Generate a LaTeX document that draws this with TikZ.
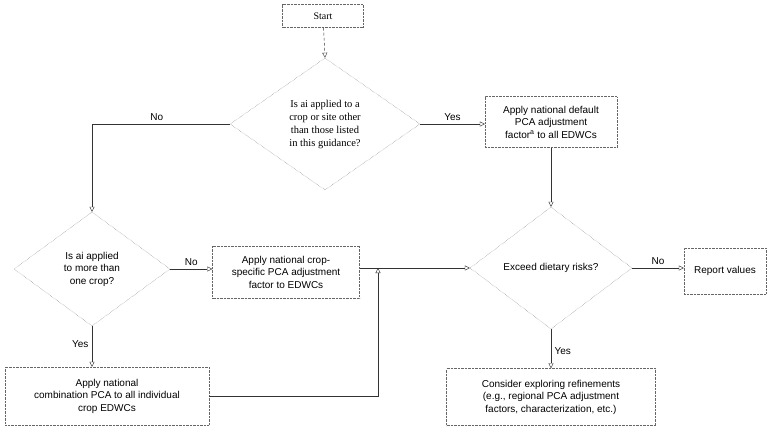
\documentclass[tikz,border=0pt]{standalone}
\usepackage{fontspec}
\setmainfont{Liberation Sans}
\newfontfamily\serifface{Liberation Serif}
\usetikzlibrary{shapes.geometric,arrows.meta}
\tikzset{
  box/.style = {draw=black!60, densely dotted, rectangle, align=center, font=\fontsize{10}{12.5}\selectfont},
  dia/.style = {draw=black!60, densely dotted, diamond, inner sep=0pt},
  conn/.style = {draw=black!80, -{Triangle[open,length=5pt,width=5pt]}},
  lbl/.style = {font=\fontsize{10}{12}\selectfont}
}
\begin{document}
\begin{tikzpicture}[x=1pt, y=-1pt]
  \useasboundingbox (0,0) rectangle (769,432);
  % nodes
  \node [box, minimum width=81pt, minimum height=23pt, font=\serifface\fontsize{10}{12}\selectfont] (start) at (323,16) {Start};
  \node [dia, minimum width=190pt, minimum height=132pt,
    label={[align=center, font=\serifface\fontsize{10.5}{13}\selectfont]center:Is ai applied to a\\crop or site other\\than those listed\\in this guidance?}] (other) at (325,124) {};
  \node [box, minimum width=132pt, minimum height=51pt] (default) at (551,122) {Apply national default\\PCA adjustment\\factor\textsuperscript{a} to all EDWCs};
  \node [dia, minimum width=162pt, minimum height=122pt,
    label={[font=\fontsize{10}{12}\selectfont]center:Exceed dietary risks?}] (exceed) at (551,268) {};
  \node [box, minimum width=82pt, minimum height=46pt] (report) at (725,271) {Report values};
  \node [box, minimum width=209pt, minimum height=57pt] (refine) at (551,397) {Consider exploring refinements\\(e.g., regional PCA adjustment\\factors, characterization, etc.)};
  \node [dia, minimum width=156pt, minimum height=114pt,
    label={[align=center, font=\fontsize{10}{12.5}\selectfont]center:Is ai applied\\to more than\\one crop?}] (onecrop) at (92,269) {};
  \node [box, minimum width=147pt, minimum height=52pt] (specific) at (286,272) {Apply national crop-\\specific PCA adjustment\\factor to EDWCs};
  \node [box, minimum width=204pt, minimum height=58pt] (combo) at (107,396) {Apply national\\combination PCA to all individual\\crop EDWCs};
  \coordinate (bend) at (92,124);
  \coordinate (join) at (378,268);
  % edges
  \draw [conn, densely dashed] (start) -- (other.north);
  \draw [conn] (other.east) -- node[lbl, above] {Yes} (default.west |- other.east);
  \draw [draw=black!80] (other.west) -- node[lbl, above, pos=0.53] {No} (bend);
  \draw [conn] (bend) -- (onecrop.north);
  \draw [conn] (default) -- (exceed.north);
  \draw [conn] (onecrop.east) -- node[lbl, above] {No} (specific.west |- onecrop.east);
  \draw [conn] (specific.east |- join) -- (exceed.west);
  \draw [conn] (combo.east) -| (join);
  \draw [conn] (onecrop.south) -- node[lbl, left, pos=0.45] {Yes} (combo.north -| onecrop.south);
  \draw [conn] (exceed.east) -- node[lbl, above] {No} (report.west |- exceed.east);
  \draw [conn] (exceed.south) -- node[lbl, right, pos=0.55] {Yes} (refine.north);
\end{tikzpicture}
\end{document}
